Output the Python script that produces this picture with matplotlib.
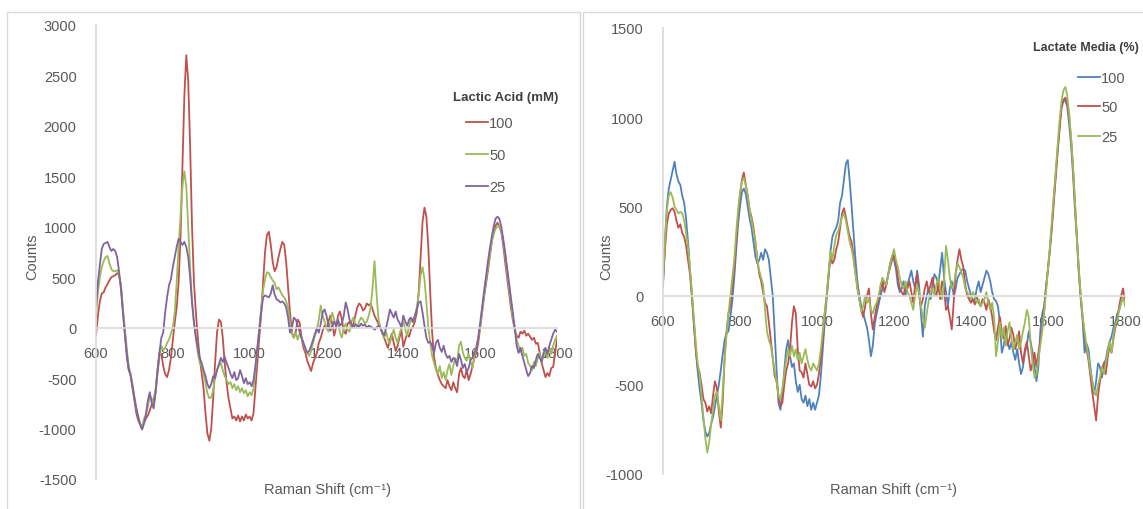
import numpy as np
import matplotlib
matplotlib.use("Agg")
import matplotlib.pyplot as plt
from matplotlib.patches import Rectangle

plt.rcParams['font.family'] = ['Liberation Sans', 'DejaVu Sans']
plt.rcParams['axes.unicode_minus'] = False

# Raman shift grid (cm-1), 5 cm-1 steps
shift = np.arange(600, 1801, 5)

# Lactic acid standards (counts)
lactic_100 = [
    -80, 120, 260, 340, 350, 400, 430, 470, 500, 510, 520, 540, 520, 420, 180, -50, -280, -420, -460, -600,
    -720, -850, -920, -960, -1000, -940, -900, -870, -820, -760, -720, -620, -420, -250, -260, -380, -460, -490, -420, -300,
    -120, 50, 200, 450, 900, 1600, 2300, 2700, 2450, 1800, 1000, 450, 150, -100, -300, -450, -600, -850, -1050, -1120,
    -1000, -700, -350, -50, 80, 60, -100, -350, -550, -700, -800, -900, -880, -920, -870, -930, -880, -920, -860, -900,
    -880, -920, -850, -600, -350, -100, 150, 450, 750, 920, 950, 820, 650, 560, 600, 700, 780, 850, 820, 650,
    400, 150, -50, -100, -40, 80, 50, -100, -200, -250, -330, -380, -430, -350, -300, -250, -150, -100, -30, 20,
    -10, 60, 120, 40, -80, 0, 120, 160, 80, -40, -60, 40, 60, 0, 30, 120, 200, 240, 220, 170,
    190, 240, 220, 240, 180, 120, 80, 40, 0, -50, -100, -150, -200, -120, -60, -150, -230, -180, -100, -20,
    -190, -120, -60, -90, -20, 10, 60, 150, 350, 700, 1050, 1190, 1100, 800, 350, -50, -290, -400, -470, -520,
    -560, -580, -600, -520, -580, -620, -540, -600, -640, -460, -400, -480, -500, -420, -520, -460, -380, -300, -250, -150,
    0, 150, 300, 430, 560, 700, 850, 950, 1010, 1040, 1000, 950, 820, 650, 500, 350, 200, 80, -20, -80,
    -100, -40, -60, -30, -80, -60, -90, -120, -100, -160, -150, -250, -350, -420, -490, -450, -480, -400, -390, -250,
    -120,
]
lactic_50 = [
    110, 350, 500, 600, 660, 700, 710, 640, 580, 560, 560, 570, 520, 400, 180, 0, -200, -380, -460, -560,
    -680, -800, -880, -950, -990, -900, -860, -780, -680, -700, -770, -640, -450, -300, -180, -220, -200, -150, -120, -60,
    0, 150, 450, 800, 1100, 1400, 1550, 1400, 1000, 600, 250, 50, -100, -250, -350, -380, -450, -550, -650, -700,
    -690, -620, -500, -420, -380, -350, -420, -480, -520, -560, -540, -600, -560, -620, -580, -640, -600, -650, -620, -680,
    -640, -670, -600, -420, -200, 0, 200, 380, 480, 550, 540, 500, 470, 440, 380, 400, 360, 320, 300, 260,
    200, 50, -60, -100, -50, -120, -60, -100, -160, -220, -250, -280, -230, -150, -80, -20, 80, 220, 120, 60,
    0, -40, 60, 150, 80, 20, 50, -50, -100, 0, 40, -20, -40, 60, 100, 40, 0, 60, 100, 80,
    40, 60, 120, 200, 400, 660, 350, 100, 0, -60, -100, -40, -120, -160, -80, -20, -100, -150, -60, 0,
    60, -20, -80, 20, 80, 50, 120, 200, 330, 520, 600, 480, 250, 0, -150, -280, -350, -420, -460, -380,
    -500, -440, -520, -420, -360, -470, -380, -300, -350, -180, -140, -250, -300, -330, -260, -340, -400, -280, -200, -100,
    0, 170, 320, 460, 600, 720, 850, 920, 980, 1000, 1010, 960, 860, 720, 560, 400, 250, 100, 0, -120,
    -180, -240, -200, -280, -260, -350, -380, -420, -340, -380, -300, -250, -340, -280, -240, -300, -200, -260, -180, -120,
    -80,
]
lactic_25 = [
    210, 450, 620, 780, 830, 840, 850, 800, 760, 780, 760, 700, 560, 380, 150, -60, -250, -400, -480, -580,
    -700, -800, -890, -960, -1010, -950, -860, -720, -640, -750, -800, -650, -450, -250, -100, -50, 150, 300, 420, 480,
    600, 700, 800, 880, 850, 820, 850, 800, 700, 500, 250, 50, -100, -200, -300, -350, -420, -480, -560, -600,
    -560, -480, -500, -420, -360, -300, -340, -290, -350, -400, -460, -500, -440, -520, -500, -420, -480, -550, -500, -560,
    -540, -580, -520, -380, -200, -20, 150, 300, 320, 310, 300, 340, 420, 330, 280, 270, 250, 260, 240, 200,
    100, -50, 0, 100, 80, 20, -40, -100, -150, -200, -250, -230, -180, -120, -60, 0, -50, 40, 150, 180,
    120, 20, -30, 20, 60, 10, 80, 20, 40, 120, 250, 180, 80, 40, 0, 30, 20, 10, 40, 20,
    30, 0, 20, 10, 0, -20, 0, 20, 0, -40, -80, 0, 80, 180, 140, 100, 160, 80, 50, 0,
    120, 60, 20, 80, 100, 60, 120, 180, 250, 260, 150, 20, -100, -150, -140, -180, -250, -150, -120, -200,
    -240, -180, -260, -300, -280, -340, -300, -320, -380, -260, -320, -400, -360, -440, -400, -320, -300, -250, -200, -100,
    50, 200, 360, 500, 650, 780, 900, 1000, 1080, 1100, 1080, 1000, 880, 750, 600, 450, 300, 150, 0, -180,
    -250, -200, -280, -350, -420, -480, -450, -380, -400, -320, -260, -300, -340, -250, -200, -260, -180, -120, -60, -20,
    -40,
]

# Lactate media dilutions (counts)
media_100 = [
    50, 300, 500, 600, 650, 700, 750, 680, 640, 620, 560, 520, 430, 300, 150, 0, -150, -300, -420, -520,
    -600, -700, -760, -790, -770, -720, -680, -620, -560, -500, -420, -330, -250, -210, -200, -120, -30, 100, 250, 400,
    500, 580, 600, 570, 500, 430, 380, 300, 220, 180, 200, 240, 200, 260, 240, 200, 100, 0, -200, -420,
    -600, -640, -560, -420, -300, -250, -340, -400, -380, -480, -540, -500, -580, -600, -560, -620, -580, -640, -600, -640,
    -600, -560, -450, -300, -150, -20, 100, 250, 330, 360, 380, 420, 520, 560, 650, 740, 760, 640, 500, 350,
    200, 80, 0, -60, -100, -140, -180, -250, -340, -280, -160, -100, -50, 0, 40, 80, 60, 120, 180, 220,
    200, 150, 60, 20, 40, 80, 0, 60, 100, 140, 80, 40, 140, 60, -100, -230, -60, 0, 40, -20,
    60, 120, 100, 60, 150, 240, 100, 20, -60, 40, 80, 0, 40, 100, 120, 140, 150, 140, 80, 40,
    0, -30, -20, 40, 80, 20, 60, 100, 140, 120, 80, 20, -20, -30, -60, -150, -320, -280, -200, -260,
    -300, -260, -320, -360, -300, -380, -440, -400, -320, -280, -200, -260, -320, -400, -480, -400, -200, -100, -60, 50,
    150, 260, 390, 540, 680, 820, 950, 1060, 1100, 1090, 1060, 960, 840, 680, 480, 320, 120, -20, -140, -320,
    -270, -300, -400, -480, -550, -480, -380, -400, -460, -380, -360, -300, -260, -230, -180, -150, -100, -80, -40, 0,
    -30,
]
media_50 = [
    80, 250, 400, 460, 480, 490, 470, 420, 380, 400, 350, 330, 280, 200, 120, 0, -150, -300, -400, -430,
    -500, -580, -600, -650, -620, -660, -560, -480, -520, -650, -740, -600, -350, -200, -100, -60, 50, 150, 300, 450,
    560, 650, 690, 620, 560, 480, 440, 380, 300, 200, 120, 80, 20, -40, -60, -150, -250, -350, -450, -480,
    -560, -620, -600, -500, -420, -380, -300, -150, -60, -100, -300, -420, -430, -460, -380, -440, -500, -510, -480, -520,
    -500, -440, -350, -250, -100, 0, 120, 220, 180, 200, 260, 300, 380, 460, 490, 440, 380, 330, 300, 220,
    130, 40, -20, -80, -120, -60, 0, 40, -100, -190, -120, -60, -20, 40, 80, 20, 60, 120, 160, 200,
    230, 180, 100, 40, 20, 0, 60, 40, 80, 20, -40, 60, 120, 0, -60, -20, 40, 80, 20, 60,
    100, 40, 0, 60, -20, 80, 40, -80, -60, -120, -190, -40, 120, 200, 260, 200, 160, 60, 0, -20,
    -40, -20, -50, -10, -40, -60, -20, -40, -80, -20, -60, -120, -200, -250, -180, -120, -200, -240, -170, -280,
    -240, -180, -220, -300, -260, -200, -320, -380, -300, -260, -340, -420, -380, -320, -400, -320, -260, -180, -80, 50,
    150, 260, 380, 520, 660, 800, 930, 1050, 1090, 1110, 1080, 1000, 880, 720, 520, 340, 150, 0, -120, -220,
    -300, -360, -450, -540, -620, -700, -560, -480, -420, -380, -440, -350, -280, -320, -240, -180, -130, -60, 0, 40,
    -40,
]
media_25 = [
    80, 300, 480, 560, 580, 550, 500, 480, 460, 470, 460, 420, 350, 270, 150, 20, -120, -260, -380, -440,
    -560, -680, -800, -880, -820, -720, -640, -560, -540, -620, -700, -540, -360, -220, -100, 0, 100, 200, 350, 480,
    580, 640, 660, 620, 560, 480, 420, 360, 300, 200, 140, 100, 60, -80, -200, -250, -280, -350, -420, -480,
    -560, -580, -520, -440, -360, -300, -340, -280, -340, -300, -360, -320, -380, -340, -300, -360, -400, -420, -380, -400,
    -420, -380, -300, -200, -100, 0, 120, 250, 200, 280, 340, 360, 400, 440, 460, 420, 360, 300, 260, 200,
    120, 40, -20, -90, -60, 0, -40, -20, -80, -100, -60, -40, 0, 60, 100, 80, 60, 120, 180, 220,
    260, 200, 160, 100, 60, 40, 80, 20, 0, -40, -80, 0, 60, 20, -60, -120, -180, -100, -30, 20,
    40, 0, 60, 100, 40, -20, 80, 280, 200, 100, 40, 60, 120, 180, 160, 130, 100, 40, 20, 0,
    -20, 20, 0, -40, -20, -60, -40, -20, 20, -40, -80, -40, -120, -340, -260, -150, -240, -180, -280, -200,
    -150, -240, -300, -260, -220, -300, -260, -200, -150, -80, -120, -280, -380, -460, -440, -360, -280, -200, -100, 20,
    150, 280, 420, 560, 700, 840, 980, 1090, 1150, 1170, 1120, 1020, 880, 720, 520, 320, 140, 0, -120, -200,
    -280, -340, -420, -480, -540, -560, -500, -460, -400, -440, -380, -320, -260, -320, -220, -160, -140, -80, -40, 0,
    -60,
]

lactic_labels = ['100', '50', '25']
media_labels = ['100', '50', '25']

# Excel 2010 palette
BLUE, RED, GREEN, PURPLE = '#4F81BD', '#C0504D', '#9BBB59', '#8064A2'
AXIS_GREY = '#D9D9D9'
TEXT_GREY = '#595959'
FS = 10.5

W, H = 1143, 510
fig = plt.figure(figsize=(W / 100, H / 100), dpi=100)

# chart-area outlines
fig.patches.append(Rectangle((7 / W, -0.05), 573 / W, 1.05 - 13 / H, transform=fig.transFigure,
                             fill=False, edgecolor=AXIS_GREY, lw=1.0))
fig.patches.append(Rectangle((583 / W, -0.05), 0.6, 1.05 - 13 / H, transform=fig.transFigure,
                             fill=False, edgecolor=AXIS_GREY, lw=1.0))


def style_axes(ax, ymin, ymax):
    ax.set_xlim(600, 1800)
    ax.set_ylim(ymin, ymax)
    ax.set_xticks(np.arange(600, 1801, 200))
    ax.set_yticks(np.arange(ymin, ymax + 1, 500))
    for side in ('top', 'right'):
        ax.spines[side].set_visible(False)
    ax.spines['bottom'].set_position(('data', 0))
    ax.spines['bottom'].set_color(AXIS_GREY)
    ax.spines['left'].set_color(AXIS_GREY)
    ax.spines['bottom'].set_linewidth(1.2)
    ax.spines['left'].set_linewidth(1.2)
    ax.tick_params(axis='x', length=0, pad=13, labelsize=FS, labelcolor=TEXT_GREY)
    ax.tick_params(axis='y', length=0, pad=14, labelsize=FS, labelcolor=TEXT_GREY)
    ax.patch.set_visible(False)


# Left: lactic acid
ax1 = fig.add_axes([96 / W, 1 - 480 / H, 461 / W, 454 / H])
lines1 = []
for vals, col, lab in zip([lactic_100, lactic_50, lactic_25], [RED, GREEN, PURPLE], lactic_labels):
    ln, = ax1.plot(shift, vals, color=col, lw=1.3, label=lab)
    lines1.append(ln)
style_axes(ax1, -1500, 3000)

# Right: lactate media
ax2 = fig.add_axes([663 / W, 1 - 475 / H, 462 / W, 446 / H])
lines2 = []
for vals, col, lab in zip([media_100, media_50, media_25], [BLUE, RED, GREEN], media_labels):
    ln, = ax2.plot(shift, vals, color=col, lw=1.3, label=lab)
    lines2.append(ln)
style_axes(ax2, -1000, 1500)

# axis titles
for x in (32, 606):
    fig.text(x / W, 1 - 257 / H, 'Counts', rotation=90, ha='center', va='center',
             fontsize=FS, color=TEXT_GREY)
for x in (328, 893):
    fig.text(x / W, 1 - 490 / H, 'Raman Shift (cm\u207b\u00b9)', ha='center', va='center',
             fontsize=FS, color=TEXT_GREY)

# legends
fig.text(453 / W, 1 - 98 / H, 'Lactic Acid (mM)', ha='left', va='center',
         fontsize=9.5, fontweight='bold', color='#404040')
fig.text(1139 / W, 1 - 48 / H, 'Lactate Media (%)', ha='right', va='center',
         fontsize=9, fontweight='bold', color='#404040')

leg_kw = dict(loc='upper left', frameon=False, fontsize=FS, handlelength=1.5,
              handletextpad=0.1, borderpad=0, borderaxespad=0,
              bbox_transform=fig.transFigure, labelcolor=TEXT_GREY)
ax1.legend(handles=lines1, bbox_to_anchor=(466 / W, 1 - 117 / H), labelspacing=1.23, **leg_kw)
ax2.legend(handles=lines2, bbox_to_anchor=(1078 / W, 1 - 72 / H), labelspacing=1.06, **leg_kw)

fig.savefig('out.png', dpi=100)
